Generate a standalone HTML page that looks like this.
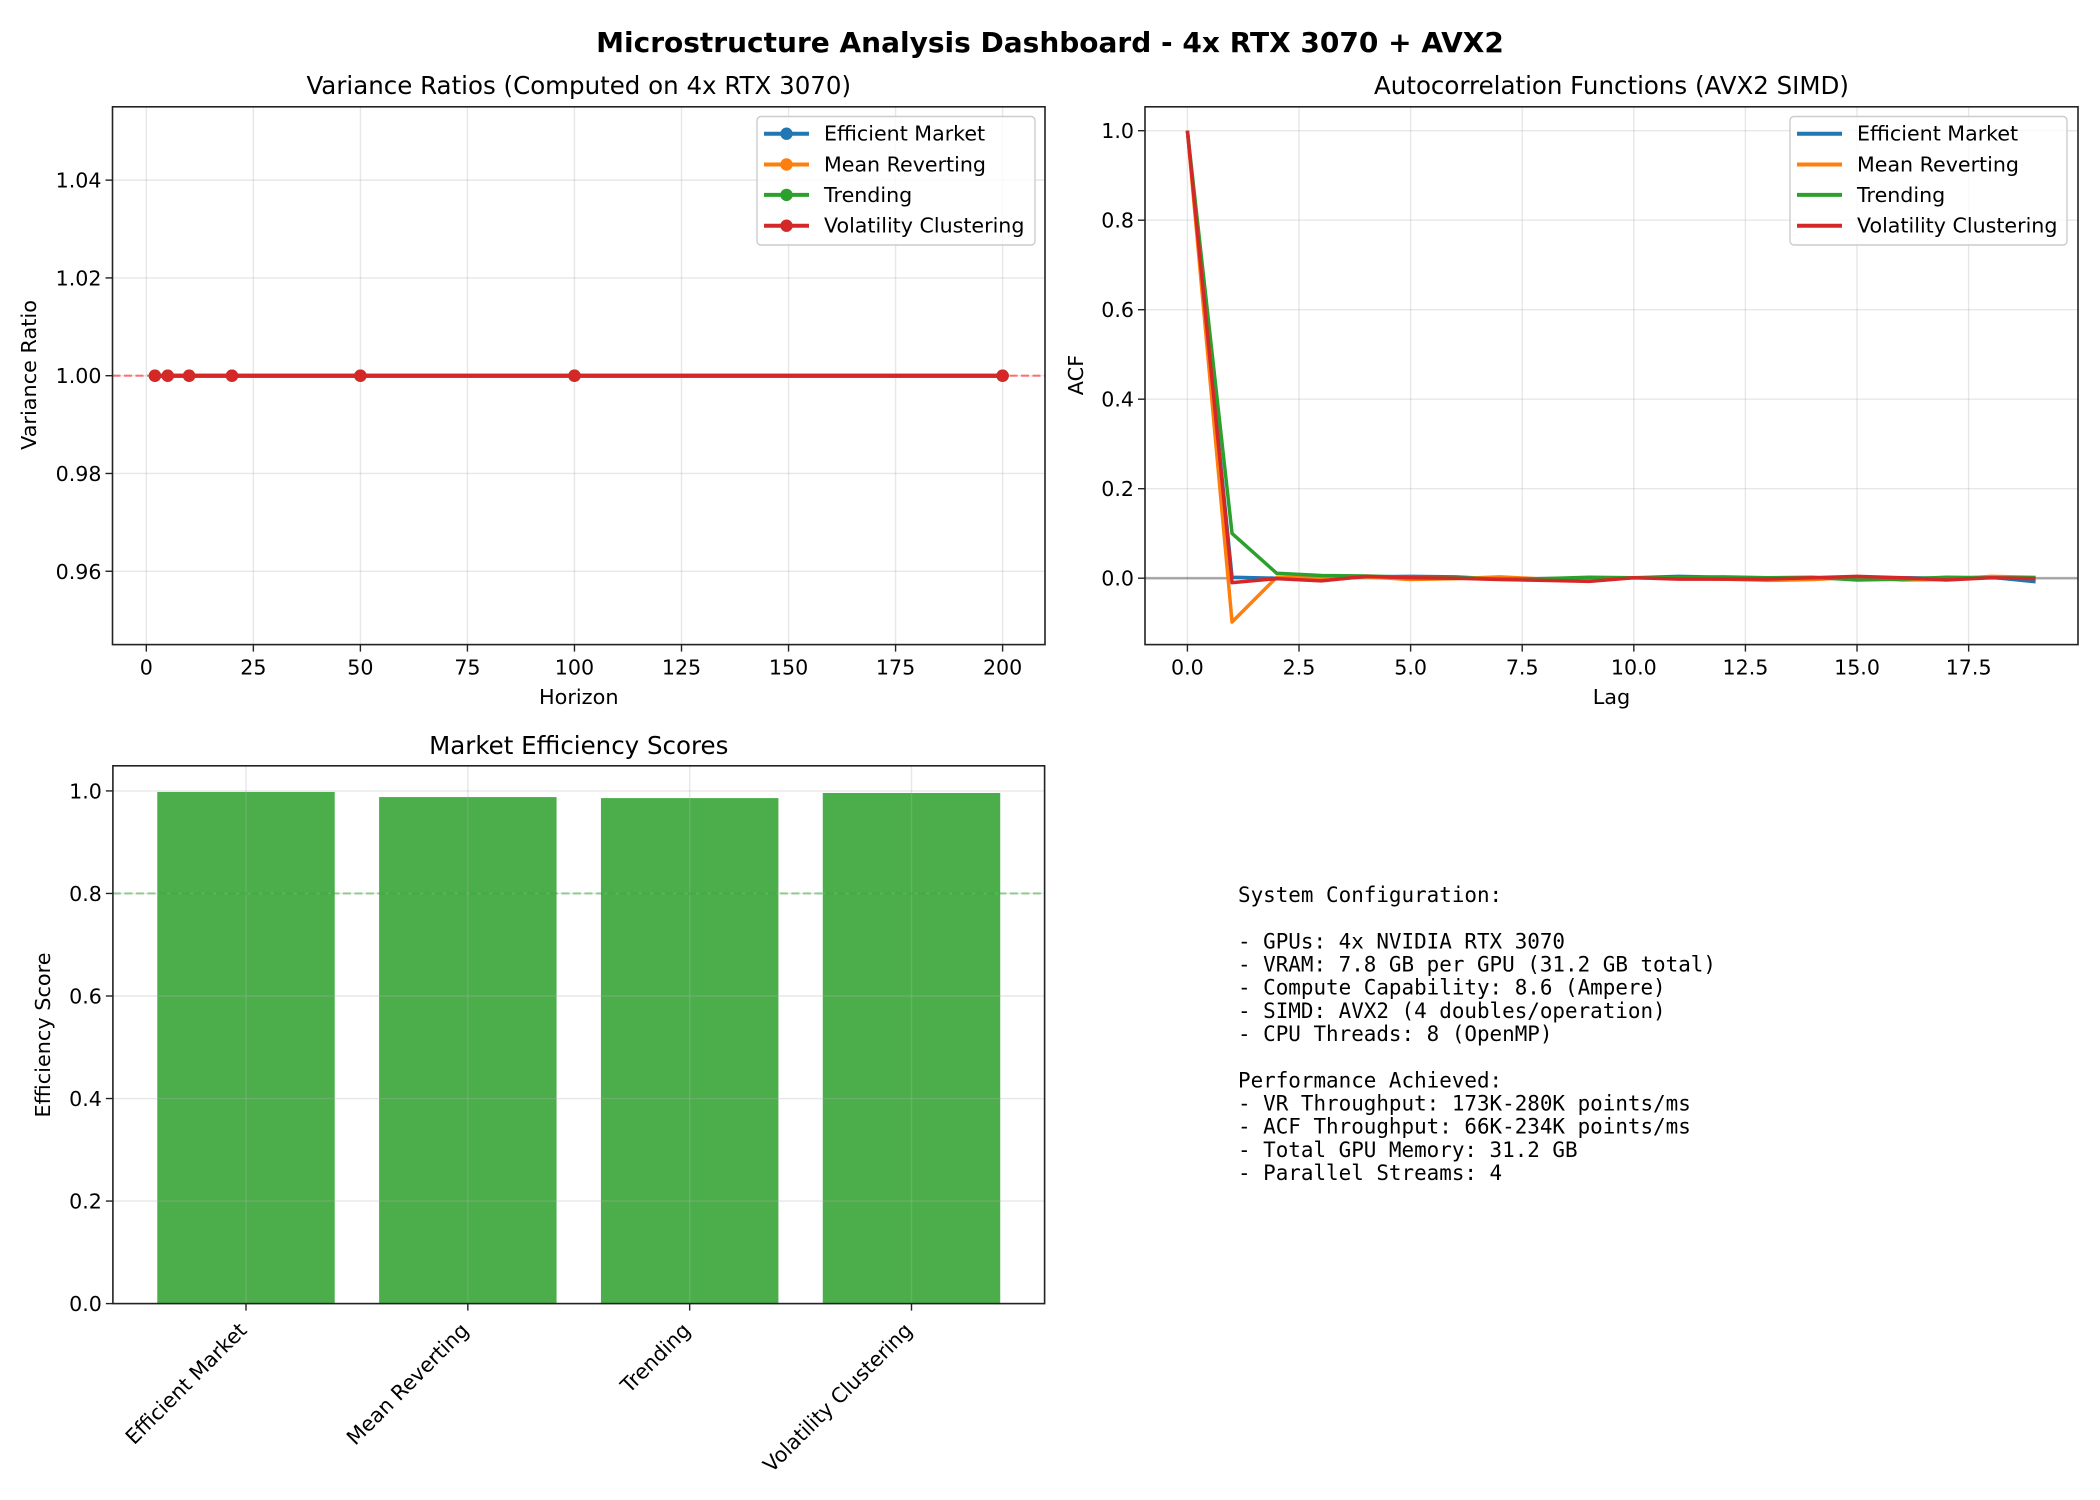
<!DOCTYPE html>
<html><head><meta charset="utf-8"><style>
html,body{margin:0;padding:0;background:#fff;}
svg{display:block;font-family:"DejaVu Sans","Liberation Sans",sans-serif;}
</style></head><body>
<svg id="fig" width="2100" height="1500" viewBox="0 0 2100 1500" xmlns="http://www.w3.org/2000/svg">
<rect width="2100" height="1500" fill="#fff"/>
<text x="1050" y="52" text-anchor="middle" font-size="28" font-weight="bold">Microstructure Analysis Dashboard - 4x RTX 3070 + AVX2</text>
<text font-family="'DejaVu Sans Mono','Liberation Mono',monospace" font-size="20.9">
<tspan x="1238" y="902">System Configuration:</tspan>
<tspan x="1238" y="948.3">- GPUs: 4x NVIDIA RTX 3070</tspan>
<tspan x="1238" y="971.5">- VRAM: 7.8 GB per GPU (31.2 GB total)</tspan>
<tspan x="1238" y="994.6">- Compute Capability: 8.6 (Ampere)</tspan>
<tspan x="1238" y="1017.8">- SIMD: AVX2 (4 doubles/operation)</tspan>
<tspan x="1238" y="1041">- CPU Threads: 8 (OpenMP)</tspan>
<tspan x="1238" y="1087.3">Performance Achieved:</tspan>
<tspan x="1238" y="1110.5">- VR Throughput: 173K-280K points/ms</tspan>
<tspan x="1238" y="1133.6">- ACF Throughput: 66K-234K points/ms</tspan>
<tspan x="1238" y="1156.8">- Total GPU Memory: 31.2 GB</tspan>
<tspan x="1238" y="1180">- Parallel Streams: 4</tspan>
</text>
</svg>
<script>
const seriesNames = ["Efficient Market","Mean Reverting","Trending","Volatility Clustering"];
const colors = ["#1f77b4","#ff7f0e","#2ca02c","#d62728"];
// Variance ratio chart
const horizons = [2,5,10,20,50,100,200];
const vrEfficient = [1,1,1,1,1,1,1];
const vrMeanRev = [1,1,1,1,1,1,1];
const vrTrending = [1,1,1,1,1,1,1];
const vrVolClust = [1,1,1,1,1,1,1];
const vrXTicks = [0,25,50,75,100,125,150,175,200];
const vrYTicks = [0.96,0.98,1.00,1.02,1.04];
// ACF chart
const lags = [0,1,2,3,4,5,6,7,8,9,10,11,12,13,14,15,16,17,18,19];
const acfEfficient = [1,0.002,0.0,-0.002,0.003,0.004,0.003,-0.002,-0.001,0.0,0.001,0.004,0.002,-0.001,0.001,-0.002,0.001,0.0,0.002,-0.008];
const acfMeanRev = [1,-0.098,0.002,0.001,0.003,-0.003,-0.001,0.003,-0.002,-0.003,0.001,0.0,-0.002,-0.005,-0.003,0.002,-0.004,-0.003,0.004,0.002];
const acfTrending = [1,0.1,0.011,0.006,0.005,0.002,0.001,-0.002,-0.001,0.002,0.001,0.001,0.003,0.001,0.002,-0.004,-0.002,0.002,0.001,0.001];
const acfVolClust = [1,-0.01,-0.001,-0.006,0.004,0.001,0.0,-0.003,-0.005,-0.007,0.001,-0.002,-0.002,-0.002,0.001,0.004,0.001,-0.004,0.001,-0.001];
const acfXTicks = [0,2.5,5,7.5,10,12.5,15,17.5];
const acfYTicks = [0,0.2,0.4,0.6,0.8,1.0];
// Efficiency chart
const effCategories = ["Efficient Market","Mean Reverting","Trending","Volatility Clustering"];
const effScores = [0.998,0.988,0.986,0.996];
const effYTicks = [0,0.2,0.4,0.6,0.8,1.0];
const effThreshold = 0.8;

const NS="http://www.w3.org/2000/svg";
const svg=document.getElementById('fig');
function mk(tag,attrs,parent){const e=document.createElementNS(NS,tag);for(const k in attrs)e.setAttribute(k,attrs[k]);(parent||svg).appendChild(e);return e;}
function scale(d0,d1,r0,r1){return v=>r0+(v-d0)/(d1-d0)*(r1-r0);}
const FS=20.6;

function frame(g,L,T,R,B){
  const r=mk('rect',{x:L,y:T,width:R-L,height:B-T,fill:'none',stroke:'#222','stroke-width':1.6},g);
  
  
}
function xTicks(g,ticks,sx,B,fmt){
  ticks.forEach(t=>{const x=sx(t);
    mk('line',{x1:x,y1:B,x2:x,y2:B+7,stroke:'#222','stroke-width':1.4},g);
    const tx=mk('text',{x:x,y:B+30,'text-anchor':'middle','font-size':FS},g);tx.textContent=fmt(t);
    
    
  });
}
function yTicks(g,ticks,sy,L,fmt){
  ticks.forEach(t=>{const y=sy(t);
    mk('line',{x1:L-7,y1:y,x2:L,y2:y,stroke:'#222','stroke-width':1.4},g);
    const tx=mk('text',{x:L-11,y:y+7.5,'text-anchor':'end','font-size':FS},g);tx.textContent=fmt(t);
    
    
  });
}
function gridX(g,ticks,sx,T,B){ticks.forEach(t=>mk('line',{x1:sx(t),y1:T,x2:sx(t),y2:B,stroke:'#b0b0b0','stroke-opacity':0.3,'stroke-width':1.4},g));}
function gridY(g,ticks,sy,L,R){ticks.forEach(t=>mk('line',{x1:L,y1:sy(t),x2:R,y2:sy(t),stroke:'#b0b0b0','stroke-opacity':0.3,'stroke-width':1.4},g));}
function label(g,txt,x,y,rot,name,size){
  const t=mk('text',{x:x,y:y,'text-anchor':'middle','font-size':size||20.8},g);
  if(rot)t.setAttribute('transform',`rotate(-90 ${x} ${y})`);
  t.textContent=txt;
  
  
}
function legend(g,x0,x1,withMarker){
  const box=mk('rect',{x:x0,y:116.5,width:x1-x0,height:128.5,rx:4,fill:'#fff','fill-opacity':0.8,stroke:'#ccc','stroke-width':1.4},g);
  
  
  const rows=[133.7,164.5,194.9,225.7];
  seriesNames.forEach((n,i)=>{
    const eg=mk('g',{},g);
    
    
    mk('line',{x1:x0+7,y1:rows[i],x2:x0+52,y2:rows[i],stroke:colors[i],'stroke-width':4},eg);
    if(withMarker)mk('circle',{cx:x0+29.5,cy:rows[i],r:6.2,fill:colors[i]},eg);
    const t=mk('text',{x:x0+67,y:rows[i]+7,'font-size':FS},eg);t.textContent=n;
  });
}

// ---- Variance ratios
(function(){
  const L=112.5,R=1045,T=106.8,B=644.6;
  const g=mk('g',{});
  const sx=scale(-7.9,209.9,L,R), sy=scale(0.945,1.055,B,T);
  gridX(g,vrXTicks,sx,T,B);gridY(g,vrYTicks,sy,L,R);
  mk('line',{x1:L,y1:sy(1),x2:R,y2:sy(1),stroke:'#ff0000','stroke-opacity':0.5,'stroke-width':2.2,'stroke-dasharray':'8,3.5'},g);
  [vrEfficient,vrMeanRev,vrTrending,vrVolClust].forEach((s,i)=>{
    const sg=mk('g',{},g);
    
    
    mk('polyline',{points:horizons.map((h,j)=>sx(h)+','+sy(s[j])).join(' '),fill:'none',stroke:colors[i],'stroke-width':4},sg);
    horizons.forEach((h,j)=>{const c=mk('circle',{cx:sx(h),cy:sy(s[j]),r:6.2,fill:colors[i]},sg);
      
      });
  });
  frame(g,L,T,R,B);
  xTicks(g,vrXTicks,sx,B,v=>String(v));
  yTicks(g,vrYTicks,sy,L,v=>v.toFixed(2));
  label(g,'Variance Ratios (Computed on 4x RTX 3070)',(L+R)/2,94,false,'chart-title',24.5);
  label(g,'Horizon',(L+R)/2,704,false,'x-axis-title');
  label(g,'Variance Ratio',36,375,true,'y-axis-title');
  legend(g,757,1035,true);
})();

// ---- ACF
(function(){
  const L=1145,R=2078,T=106.8,B=644.6;
  const g=mk('g',{});
  const sx=scale(-0.95,19.95,L,R), sy=scale(-0.1484,1.0534,B,T);
  gridX(g,acfXTicks,sx,T,B);gridY(g,acfYTicks,sy,L,R);
  mk('line',{x1:L,y1:sy(0),x2:R,y2:sy(0),stroke:'#000','stroke-opacity':0.3,'stroke-width':2.6},g);
  [acfEfficient,acfMeanRev,acfTrending,acfVolClust].forEach((s,i)=>{
    const p=mk('polyline',{points:lags.map((l,j)=>sx(l)+','+sy(s[j])).join(' '),fill:'none',stroke:colors[i],'stroke-width':3.5,'stroke-linejoin':'round'},g);
    
    
  });
  frame(g,L,T,R,B);
  xTicks(g,acfXTicks,sx,B,v=>v.toFixed(1));
  yTicks(g,acfYTicks,sy,L,v=>v.toFixed(1));
  label(g,'Autocorrelation Functions (AVX2 SIMD)',(L+R)/2,94,false,'chart-title',24.5);
  label(g,'Lag',(L+R)/2,704,false,'x-axis-title');
  label(g,'ACF',1083,375,true,'y-axis-title');
  legend(g,1790,2067,false);
})();

// ---- Efficiency bars
(function(){
  const L=112.9,R=1044.6,T=765.8,B=1303.6;
  const g=mk('g',{});
  const n=effCategories.length;
  const sx=scale(-0.6,n-0.4,L,R), sy=scale(0,1.049,B,T);
  effCategories.forEach((c,i)=>{
    const b=mk('rect',{x:sx(i-0.4),y:sy(effScores[i]),width:sx(0.4)-sx(-0.4),height:sy(0)-sy(effScores[i]),fill:'#2ca02c','fill-opacity':0.85},g);
    
    
  });
  gridX(g,effCategories.map((c,i)=>i),sx,T,B);gridY(g,effYTicks,sy,L,R);
  mk('line',{x1:L,y1:sy(effThreshold),x2:R,y2:sy(effThreshold),stroke:'#2ca02c','stroke-opacity':0.45,'stroke-width':2.2,'stroke-dasharray':'8,3.5'},g);
  frame(g,L,T,R,B);
  yTicks(g,effYTicks,sy,L,v=>v.toFixed(1));
  effCategories.forEach((c,i)=>{const x=sx(i);
    mk('line',{x1:x,y1:B,x2:x,y2:B+7,stroke:'#222','stroke-width':1.4},g);
    const ax=x+2, ay=B+28;
    const t=mk('text',{x:ax,y:ay,'text-anchor':'end','font-size':FS,transform:`rotate(-45 ${ax} ${ay})`},g);
    t.textContent=c;
    
    
  });
  label(g,'Market Efficiency Scores',(L+R)/2,754,false,'chart-title',24.5);
  label(g,'Efficiency Score',50,1035,true,'y-axis-title');
})();
</script>
</body></html>
